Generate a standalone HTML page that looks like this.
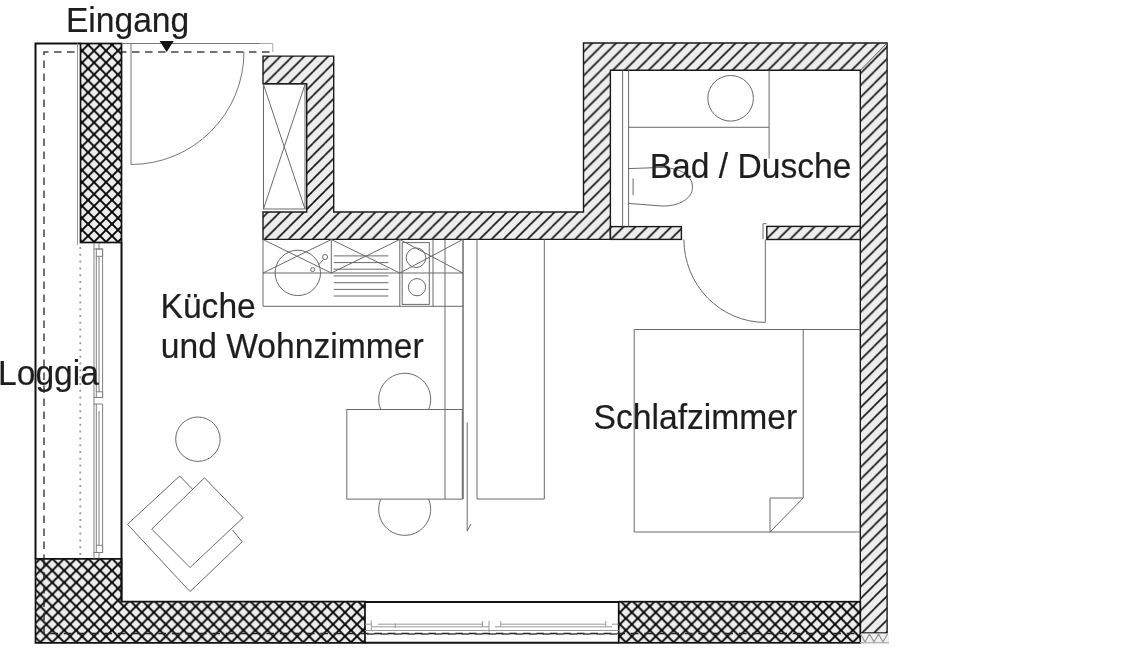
<!DOCTYPE html>
<html><head><meta charset="utf-8"><style>
html,body{margin:0;padding:0;background:#fff;width:1140px;height:663px;overflow:hidden}
svg{display:block}
text{font-family:"Liberation Sans",sans-serif;font-size:34.2px;fill:#1e1e1e;stroke:#1e1e1e;stroke-width:0.2px}
</style></head><body>
<div style="position:absolute;left:0;top:0;width:1140px;height:663px;will-change:transform">
<svg width="1140" height="663" viewBox="0 0 1140 663">
<defs>
<pattern id="xh" patternUnits="userSpaceOnUse" width="11.95" height="11.95" x="4.45" y="-3.05">
<rect width="11.95" height="11.95" fill="#ededed"/>
<path d="M-1,-1 L12.95,12.95 M-1,12.95 L12.95,-1" stroke="#000" stroke-width="1.9"/>
</pattern>
<pattern id="sh" patternUnits="userSpaceOnUse" width="11.94" height="11.94" x="2.55" y="0">
<rect width="11.94" height="11.94" fill="#ededed"/>
<path d="M-1,12.94 L12.94,-1 M-7,6.97 L6.97,-7 M4.97,18.94 L18.94,4.97" stroke="#111" stroke-width="1.6"/>
</pattern>
</defs>
<rect width="1140" height="663" fill="#fff"/>

<!-- hatched walls -->
<path d="M263,56.1 H333.7 V212 H583.5 V43 H887.1 V633 H860.3 V70.3 H610.4 V239.4 H263 V212 H306.7 V83.8 H263 Z" fill="url(#sh)" stroke="#1a1a1a" stroke-width="1.4"/>
<rect x="610.4" y="226.6" width="71" height="12.8" fill="url(#sh)" stroke="#1a1a1a" stroke-width="1.4"/>
<rect x="766.8" y="226.4" width="93.5" height="13.1" fill="url(#sh)" stroke="#1a1a1a" stroke-width="1.4"/>
<path d="M860.3,70.3 L887.1,43" stroke="#555" stroke-width="1"/>

<!-- crosshatched walls -->
<path d="M44,640 V52 H272.5" fill="none" stroke="#444" stroke-width="1.5" stroke-dasharray="7.5 5.5"/>

<rect x="80.5" y="43.5" width="41" height="199" fill="url(#xh)" stroke="#111" stroke-width="1.7"/>
<path d="M35.5,558.8 H121.5 V601.7 H365 V642.8 H35.5 Z" fill="url(#xh)" stroke="#111" stroke-width="1.7"/>
<rect x="618.7" y="601.7" width="241.6" height="41.1" fill="url(#xh)" stroke="#111" stroke-width="1.7"/>

<path d="M44,558.8 V633.5 H860" fill="none" stroke="#222" stroke-width="1.4" stroke-dasharray="7.7 5.8"/>
<!-- loggia -->
<path d="M35.5,558.8 V43.5 H80.5" fill="none" stroke="#111" stroke-width="2"/>
<path d="M121.5,242.5 V601.7" fill="none" stroke="#111" stroke-width="2"/>
<path d="M121.5,43.5 H260.5" stroke="#777" stroke-width="1"/>
<path d="M260.5,43.5 H272.8 V52" fill="none" stroke="#aaa" stroke-width="1"/>
<path d="M77.5,43.5 V245" stroke="#999" stroke-width="1"/>
<path d="M80.3,247 V556" stroke="#999" stroke-width="1.8" stroke-dasharray="2 4.8"/>
<!-- loggia window frame -->
<g fill="none" stroke="#808080" stroke-width="1">
<path d="M94,243 V558.8 M99,243 V249 M102.6,249 V397.5 H93.6 M96.3,256 V392 M99,256 V392 M93.6,404 H102.6 V552.5 H93.6 M96.3,404 V545 M99,411 V545 M99,552.5 V558.8"/>
<path d="M93.6,249 H102.6"/>
<rect x="96.3" y="249" width="6.3" height="7.3"/>
<rect x="96.3" y="391.8" width="6.3" height="5.7"/>
<rect x="96.3" y="545.3" width="6.3" height="7.2"/>
</g>

<!-- entrance -->
<polygon points="159.6,41 173.7,41 166.7,52" fill="#111"/>
<path d="M131,43.5 V164.5 M131,164.5 A113,113 0 0 0 244,52" fill="none" stroke="#777" stroke-width="1"/>
<text transform="translate(65.9,32) scale(0.983,1)">Eingang</text>

<!-- fridge cabinet -->
<g fill="none" stroke="#6a6a6a" stroke-width="1">
<rect x="263.5" y="84.5" width="41.5" height="124.5"/>
<path d="M263.5,84.5 L305,209 M305,84.5 L263.5,209"/>
</g>

<!-- kitchen counter -->
<g fill="none" stroke="#6a6a6a" stroke-width="1">
<path d="M263,239.5 V306.3 H463"/>
<path d="M263,273 H463"/>
<path d="M331.3,239.5 V273 M263,239.5 L331.3,273 M331.3,239.5 L263,273"/>
<circle cx="297.8" cy="272.9" r="22.7"/>
<circle cx="325.1" cy="257" r="2.5"/>
<circle cx="312.7" cy="269.5" r="2"/>
<path d="M318.5,265 L323.5,259.5"/>
<path d="M331.3,239.5 L399.8,273 M399.8,239.5 L331.3,273"/>
<path d="M333.7,255.9 H388.4 M333.7,262.6 H388.4 M333.7,269.2 H388.4 M333.7,275.9 H388.4 M333.7,282.7 H388.4 M333.7,289.4 H388.4 M333.7,296 H388.4"/>
<path d="M399.8,239.5 V306.3"/>
<rect x="402.2" y="242.6" width="27.1" height="61.8"/>
<circle cx="416" cy="257.7" r="9.8"/>
<circle cx="417" cy="287.2" r="8.6"/>
<path d="M433,239.5 V306.3"/>
<path d="M399.8,239.5 L462.7,273 M462.7,239.5 L399.8,273"/>
<path d="M445,239.5 V499 M477,239.5 V499 H544.3 V239.5 M467.2,422.5 V531 L471,524"/>
<path d="M463,239.5 V499" stroke="#555" stroke-width="1.3"/>
</g>
<!-- table & chairs -->
<g fill="none" stroke="#6a6a6a" stroke-width="1">
<rect x="346.8" y="409.5" width="115.5" height="89.6"/>
<path d="M380.8,409.5 A26,26 0 1 1 428.6,409.5"/>
<path d="M380.8,499.1 A26,26 0 1 0 428.6,499.1"/>
<circle cx="197.9" cy="439.2" r="22.2"/>
<polygon points="204.5,477.9 243.1,517.7 190,567.5 151.7,529.1"/>
<polyline points="192.4,489 179.7,476 127.5,524.3 190,591.6 242.2,541.8 232.3,529.8"/>
</g>
<text transform="translate(160.5,318) scale(0.983,1)">Küche</text>
<text transform="translate(160.8,358) scale(0.983,1)">und Wohnzimmer</text>
<text transform="translate(-2.0,384.5) scale(0.983,1)">Loggia</text>

<!-- bathroom -->
<g fill="none" stroke="#6a6a6a" stroke-width="1">
<path d="M622.6,70.3 V226.6 M628.6,70.3 V226.6"/>
<path d="M628.6,127.3 H769.1 M769.1,70.3 V158.6"/>
<circle cx="730.6" cy="98.3" r="22.8"/>
<path d="M628.2,168.6 L660,167.5 C680,167.5 692.5,175 692.5,187.3 C692.5,199 678,206.5 662,206 L628.2,203.4"/>
<path d="M633.1,178.4 V195.1"/>
<path d="M683.9,239.4 A81.4,83 0 0 0 765.3,322.4 V239.4"/>
<path d="M763,239 V223.7 H766.5"/>
</g>
<text transform="translate(649.7,177.5) scale(0.983,1)">Bad / Dusche</text>

<!-- bed -->
<g fill="none" stroke="#6a6a6a" stroke-width="1">
<path d="M860.3,329.5 H634.2 V532 H860.3"/>
<path d="M803.2,329.5 V498 L770,532 V498 H803.2"/>
</g>
<text transform="translate(593.6,429) scale(0.983,1)">Schlafzimmer</text>

<!-- bottom window -->
<g fill="none">
<path d="M365,602 H618.7 M365,642.8 H618.7" stroke="#111" stroke-width="2"/>
<path d="M367,634 H617" stroke="#444" stroke-width="1.5" stroke-dasharray="7.7 5.8"/>
<path d="M371.3,620.5 V630.5 M365,624.2 H371.3 M378,624.2 H482.5 M372,626.8 H489 M365,630.5 H618.7 M482.5,621 V627 M489,621 V632 M495,626.8 H612 M500.8,624.2 H605.8 M500.8,621 V627 M605.8,621 V627 M612,624.2 H618.7 M395.3,623.5 V628" stroke="#999" stroke-width="1"/>
</g>
<!-- bottom right zigzag -->
<rect x="861" y="633.5" width="28" height="9.5" fill="#f0f0f0"/>
<path d="M860.5,634 L865,642 L869.5,634 L874,642 L878.5,634 L883,642 L887.5,634" fill="none" stroke="#999" stroke-width="1.2"/>
<path d="M860,642.8 H889" stroke="#aaa" stroke-width="1.2"/>
</svg>
</div>
</body></html>
